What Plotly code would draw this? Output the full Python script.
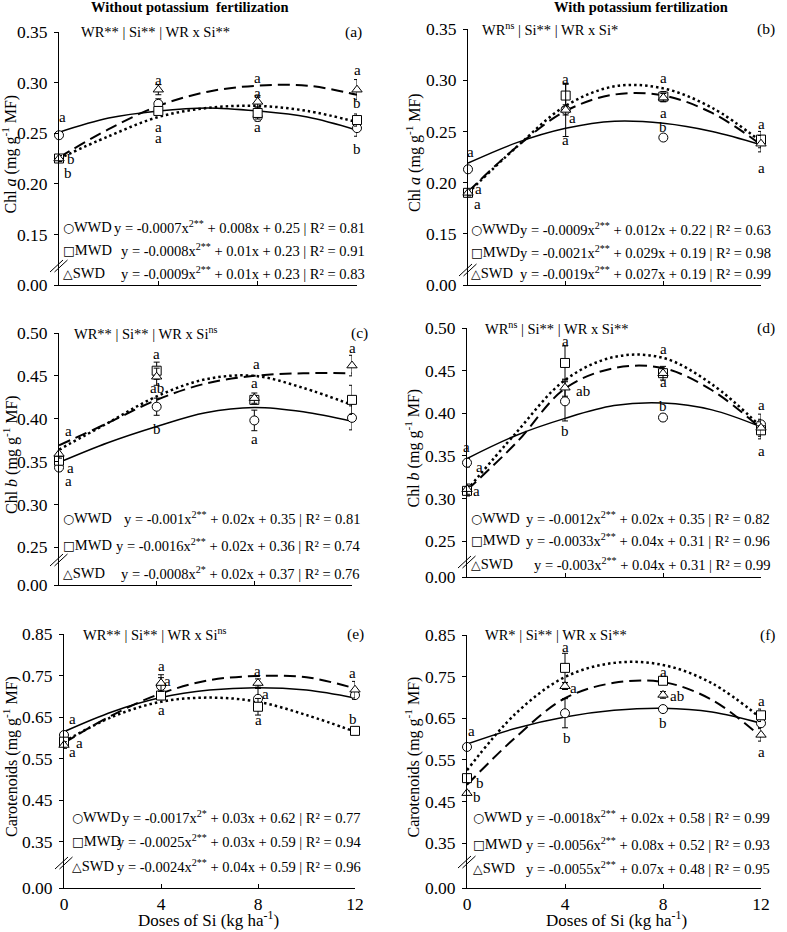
import plotly.graph_objects as go

W, H = 787, 932
FONT = "Liberation Serif, Times New Roman, serif"

X = [0, 4, 8, 12]
XFIT = [0, 2, 4, 6, 8, 10, 12]

# (a) Chl a, without K
A_WWD = [0.248, 0.279, 0.266, 0.255]
A_MWD = [0.225, 0.272, 0.270, 0.263]
A_SWD = [0.225, 0.293, 0.281, 0.293]
A_WWD_ERR = [0.003, 0.005, 0.004, 0.008]
A_MWD_ERR = [0.003, 0.004, 0.006, 0.006]
A_SWD_ERR = [0.003, 0.005, 0.006, 0.010]
A_WWD_FIT = [0.251, 0.265, 0.272, 0.275, 0.272, 0.266, 0.253]
A_MWD_FIT = [0.225, 0.247, 0.266, 0.275, 0.277, 0.272, 0.261]
A_SWD_FIT = [0.226, 0.254, 0.277, 0.291, 0.297, 0.297, 0.288]
A_LETTERS = [(0.16, 0.266, "a"), (0.48, 0.225, "b"), (0.36, 0.211, "b"),
             (4, 0.303, "a"), (4, 0.256, "a"), (4, 0.245, "a"),
             (8, 0.305, "a"), (8, 0.290, "a"), (8, 0.256, "a"),
             (12, 0.312, "a"), (12, 0.280, "b"), (12, 0.234, "b")]
A_EQ = ["y = -0.0007x<sup>2**</sup> + 0.008x + 0.25 | R² = 0.81",
        "y = -0.0008x<sup>2**</sup> + 0.01x + 0.23 | R² = 0.91",
        "y = -0.0009x<sup>2**</sup> + 0.01x + 0.23 | R² = 0.83"]
A_SIG = "WR** | Si** | WR x Si**"

# (b) Chl a, with K
B_WWD = [0.213, 0.271, 0.244, 0.241]
B_MWD = [0.190, 0.285, 0.284, 0.242]
B_SWD = [0.190, 0.271, 0.283, 0.238]
B_WWD_ERR = [0.003, 0.005, 0.003, 0.004]
B_MWD_ERR = [0.003, 0.011, 0.005, 0.008]
B_SWD_ERR = [0.003, 0.026, 0.004, 0.008]
B_WWD_FIT = [0.219, 0.239, 0.253, 0.260, 0.258, 0.250, 0.237]
B_MWD_FIT = [0.190, 0.235, 0.275, 0.294, 0.292, 0.273, 0.240]
B_SWD_FIT = [0.191, 0.235, 0.270, 0.286, 0.285, 0.268, 0.237]
B_LETTERS = [(0.12, 0.230, "a"), (0.41, 0.194, "a"), (0.37, 0.179, "a"),
             (4, 0.301, "a"), (4.3, 0.263, "a"), (4, 0.242, "a"),
             (8, 0.302, "a"), (8, 0.268, "a"), (8, 0.254, "b"),
             (12, 0.257, "a"), (12.35, 0.234, "a"), (12, 0.214, "a")]
B_EQ = ["y = -0.0009x<sup>2**</sup> + 0.012x + 0.22 | R² = 0.63",
        "y = -0.0021x<sup>2**</sup> + 0.029x + 0.19 | R² = 0.98",
        "y = -0.0019x<sup>2**</sup> + 0.027x + 0.19 | R² = 0.99"]
B_SIG = "WR<sup>ns</sup> | Si** | WR x Si*"

# (c) Chl b, without K
C_WWD = [0.343, 0.414, 0.398, 0.401]
C_MWD = [0.351, 0.456, 0.422, 0.422]
C_SWD = [0.359, 0.449, 0.424, 0.462]
C_WWD_ERR = [0.004, 0.010, 0.012, 0.014]
C_MWD_ERR = [0.005, 0.010, 0.005, 0.017]
C_SWD_ERR = [0.005, 0.010, 0.006, 0.012]
C_WWD_FIT = [0.349, 0.372, 0.391, 0.407, 0.413, 0.408, 0.397]
C_MWD_FIT = [0.364, 0.395, 0.426, 0.446, 0.450, 0.436, 0.416]
C_SWD_FIT = [0.369, 0.395, 0.422, 0.441, 0.450, 0.453, 0.453]
C_LETTERS = [(0.37, 0.386, "a"), (0.49, 0.343, "a"), (0.37, 0.327, "a"),
             (4, 0.476, "a"), (4, 0.436, "ab"), (4, 0.388, "b"),
             (8.1, 0.464, "a"), (8, 0.442, "a"), (8, 0.376, "a"),
             (12, 0.483, "a"), (12.33, 0.422, "b"), (12.33, 0.399, "b")]
C_EQ = ["y = -0.001x<sup>2**</sup> + 0.02x + 0.35 | R² = 0.81",
        "y = -0.0016x<sup>2**</sup> + 0.02x + 0.36 | R² = 0.74",
        "y = -0.0008x<sup>2*</sup> + 0.02x + 0.37 | R² = 0.76"]
C_SIG = "WR** | Si** | WR x Si<sup>ns</sup>"

# (d) Chl b, with K
D_WWD = [0.342, 0.414, 0.395, 0.387]
D_MWD = [0.309, 0.459, 0.447, 0.380]
D_SWD = [0.311, 0.430, 0.447, 0.383]
D_WWD_ERR = [0.005, 0.023, 0.004, 0.012]
D_MWD_ERR = [0.006, 0.020, 0.005, 0.010]
D_SWD_ERR = [0.006, 0.010, 0.008, 0.010]
D_WWD_FIT = [0.347, 0.374, 0.394, 0.409, 0.412, 0.404, 0.384]
D_MWD_FIT = [0.310, 0.377, 0.439, 0.466, 0.465, 0.434, 0.384]
D_SWD_FIT = [0.310, 0.365, 0.429, 0.453, 0.453, 0.427, 0.382]
D_LETTERS = [(0.0, 0.361, "a"), (0.53, 0.337, "a"), (0.37, 0.309, "a"),
             (4, 0.485, "a"), (4.73, 0.426, "ab"), (4, 0.379, "b"),
             (8, 0.475, "a"), (8, 0.437, "a"), (8, 0.408, "b"),
             (12, 0.410, "a"), (12.37, 0.381, "a"), (12, 0.356, "a")]
D_EQ = ["y = -0.0012x<sup>2**</sup> + 0.02x + 0.35 | R² = 0.82",
        "y = -0.0033x<sup>2**</sup> + 0.04x + 0.31 | R² = 0.96",
        "y = -0.003x<sup>2**</sup> + 0.04x + 0.31 | R² = 0.99"]
D_SIG = "WR<sup>ns</sup> | Si** | WR x Si**"

# (e) carotenoids, without K
E_WWD = [0.607, 0.725, 0.694, 0.703]
E_MWD = [0.591, 0.702, 0.675, 0.617]
E_SWD = [0.583, 0.732, 0.732, 0.716]
E_WWD_ERR = [0.010, 0.020, 0.025, 0.010]
E_MWD_ERR = [0.008, 0.010, 0.020, 0.005]
E_SWD_ERR = [0.008, 0.020, 0.010, 0.020]
E_WWD_FIT = [0.615, 0.663, 0.697, 0.715, 0.721, 0.715, 0.696]
E_MWD_FIT = [0.591, 0.651, 0.687, 0.697, 0.687, 0.655, 0.615]
E_SWD_FIT = [0.588, 0.655, 0.707, 0.739, 0.749, 0.746, 0.719]
E_LETTERS = [(0.37, 0.646, "a"), (0.62, 0.588, "a"), (0.37, 0.566, "a"),
             (4.04, 0.773, "a"), (4.25, 0.737, "a"), (4, 0.667, "a"),
             (7.96, 0.761, "a"), (8.29, 0.706, "a"), (8, 0.643, "a"),
             (11.9, 0.756, "a"), (12.25, 0.696, "a"), (11.9, 0.646, "b")]
E_EQ = ["y = -0.0017x<sup>2*</sup> + 0.03x + 0.62 | R² = 0.77",
        "y = -0.0025x<sup>2**</sup> + 0.03x + 0.59 | R² = 0.94",
        "y = -0.0024x<sup>2**</sup> + 0.04x + 0.59 | R² = 0.96"]
E_SIG = "WR** | Si** | WR x Si<sup>ns</sup>"

# (f) carotenoids, with K
F_WWD = [0.581, 0.662, 0.672, 0.638]
F_MWD = [0.506, 0.771, 0.740, 0.657]
F_SWD = [0.470, 0.727, 0.706, 0.610]
F_WWD_ERR = [0.005, 0.035, 0.005, 0.010]
F_MWD_ERR = [0.010, 0.035, 0.008, 0.015]
F_SWD_ERR = [0.005, 0.008, 0.008, 0.015]
F_WWD_FIT = [0.588, 0.626, 0.653, 0.669, 0.674, 0.665, 0.638]
F_MWD_FIT = [0.525, 0.662, 0.749, 0.783, 0.778, 0.734, 0.650]
F_SWD_FIT = [0.490, 0.605, 0.698, 0.735, 0.737, 0.694, 0.605]
F_LETTERS = [(0.2, 0.619, "a"), (0.53, 0.494, "b"), (0.41, 0.461, "b"),
             (4, 0.821, "a"), (4.33, 0.723, "a"), (4.08, 0.602, "b"),
             (8, 0.761, "a"), (8.57, 0.703, "ab"), (8, 0.638, "b"),
             (12, 0.691, "a"), (12.37, 0.605, "a"), (12, 0.569, "a")]
F_EQ = ["y = -0.0018x<sup>2**</sup> + 0.02x + 0.58 | R² = 0.99",
        "y = -0.0056x<sup>2**</sup> + 0.08x + 0.52 | R² = 0.93",
        "y = -0.0055x<sup>2**</sup> + 0.07x + 0.48 | R² = 0.95"]
F_SIG = "WR* | Si** | WR x Si**"

CHLA = "Chl <i>a</i> (mg g<sup>-1</sup> MF)"
CHLB = "Chl <i>b</i> (mg g<sup>-1</sup> MF)"
CARO = "Carotenoids (mg g<sup>-1</sup> MF)"

LEGEND_GLYPHS = ["\u25CB", "\u25A1", "\u25B3"]
LEGEND_NAMES = ["WWD", "MWD", "SWD"]
SYMBOLS = ["circle", "square", "triangle-up"]
FIT_DASH = ["solid", "2.5px,3px", "12px,6px"]
FIT_WIDTH = [1.5, 2.5, 2]

# pixel boxes (left, right, top, bottom), y range, ticks, text positions
PANELS = [
    dict(tag="(a)", sig=A_SIG, ytitle=CHLA, eq=A_EQ, letters=A_LETTERS,
         y=[A_WWD, A_MWD, A_SWD], err=[A_WWD_ERR, A_MWD_ERR, A_SWD_ERR],
         fit=[A_WWD_FIT, A_MWD_FIT, A_SWD_FIT],
         box=(59, 357, 32, 285), yr=(0.10, 0.35),
         ticks=[0.10, 0.15, 0.20, 0.25, 0.30, 0.35],
         leg_x=61, eq_r=367, rows=[227, 250, 273], sig_x=79, tag_r=364, brk=266, ttl_x=10),
    dict(tag="(b)", sig=B_SIG, ytitle=CHLA, eq=B_EQ, letters=B_LETTERS,
         y=[B_WWD, B_MWD, B_SWD], err=[B_WWD_ERR, B_MWD_ERR, B_SWD_ERR],
         fit=[B_WWD_FIT, B_MWD_FIT, B_SWD_FIT],
         box=(468, 761, 29, 285), yr=(0.10, 0.35),
         ticks=[0.10, 0.15, 0.20, 0.25, 0.30, 0.35],
         leg_x=469, eq_r=773, rows=[229, 252, 273], sig_x=480, tag_r=777, brk=270, ttl_x=413),
    dict(tag="(c)", sig=C_SIG, ytitle=CHLB, eq=C_EQ, letters=C_LETTERS,
         y=[C_WWD, C_MWD, C_SWD], err=[C_WWD_ERR, C_MWD_ERR, C_SWD_ERR],
         fit=[C_WWD_FIT, C_MWD_FIT, C_SWD_FIT],
         box=(59, 352, 333, 585), yr=(0.206, 0.50),
         ticks=[0.206, 0.25, 0.30, 0.35, 0.40, 0.45, 0.50],
         leg_x=61, eq_r=362, rows=[518, 545, 573], sig_x=72, tag_r=370, brk=560, ttl_x=10),
    dict(tag="(d)", sig=D_SIG, ytitle=CHLB, eq=D_EQ, letters=D_LETTERS,
         y=[D_WWD, D_MWD, D_SWD], err=[D_WWD_ERR, D_MWD_ERR, D_SWD_ERR],
         fit=[D_WWD_FIT, D_MWD_FIT, D_SWD_FIT],
         box=(467, 761, 328, 577), yr=(0.208, 0.50),
         ticks=[0.208, 0.25, 0.30, 0.35, 0.40, 0.45, 0.50],
         leg_x=469, eq_r=772, rows=[518, 540, 564], sig_x=483, tag_r=777, brk=562, ttl_x=413),
    dict(tag="(e)", sig=E_SIG, ytitle=CARO, eq=E_EQ, letters=E_LETTERS,
         y=[E_WWD, E_MWD, E_SWD], err=[E_WWD_ERR, E_MWD_ERR, E_SWD_ERR],
         fit=[E_WWD_FIT, E_MWD_FIT, E_SWD_FIT],
         box=(64, 355, 634, 888), yr=(0.239, 0.85),
         ticks=[0.239, 0.35, 0.45, 0.55, 0.65, 0.75, 0.85],
         leg_x=70, eq_r=363, rows=[817, 841, 866], sig_x=81, tag_r=366, brk=863, ttl_x=10),
    dict(tag="(f)", sig=F_SIG, ytitle=CARO, eq=F_EQ, letters=F_LETTERS,
         y=[F_WWD, F_MWD, F_SWD], err=[F_WWD_ERR, F_MWD_ERR, F_SWD_ERR],
         fit=[F_WWD_FIT, F_MWD_FIT, F_SWD_FIT],
         box=(467, 761, 635, 888), yr=(0.242, 0.85),
         ticks=[0.242, 0.35, 0.45, 0.55, 0.65, 0.75, 0.85],
         leg_x=471, eq_r=772, rows=[817, 844, 868], sig_x=483, tag_r=778, brk=862, ttl_x=413),
]


def fx(p):
    return p / W


def fy(p):
    return 1 - p / H


def paper_text(x, y, text, size, xanchor="center", yanchor="middle", **kw):
    return dict(x=fx(x), y=fy(y), xref="paper", yref="paper", xanchor=xanchor, yanchor=yanchor,
                text=text, showarrow=False, font=dict(family=FONT, size=size, color="black"), **kw)


fig = go.Figure()
annotations = []
shapes = []
layout = {}

for i, p in enumerate(PANELS, start=1):
    sfx = "" if i == 1 else str(i)
    xref, yref = "x" + sfx, "y" + sfx
    left, right, top, bottom = p["box"]
    bottom_row = i >= 5

    for k in range(3):
        fig.add_trace(go.Scatter(
            x=XFIT, y=p["fit"][k], mode="lines", xaxis=xref, yaxis=yref,
            line=dict(color="black", width=FIT_WIDTH[k], dash=FIT_DASH[k], shape="spline"),
            showlegend=False, hoverinfo="skip", cliponaxis=False,
        ))
    for k in range(3):
        fig.add_trace(go.Scatter(
            x=X, y=p["y"][k], mode="markers", xaxis=xref, yaxis=yref,
            marker=dict(symbol=SYMBOLS[k], size=9, color="white", line=dict(color="black", width=1)),
            error_y=dict(type="data", array=p["err"][k], color="black", thickness=1, width=3),
            showlegend=False, cliponaxis=False,
        ))

    tick_text = ["0.00"] + [f"{t:.2f}" for t in p["ticks"][1:]]
    layout["xaxis" + sfx] = dict(
        domain=[fx(left), fx(right)], range=[0, 12], anchor=yref, automargin=False,
        tickvals=X, ticks="inside", ticklen=4, tickcolor="black",
        showticklabels=bottom_row, tickfont=dict(family=FONT, size=17.5, color="black"),
        showline=True, linecolor="black", linewidth=1, showgrid=False, zeroline=False,
    )
    layout["yaxis" + sfx] = dict(
        domain=[fy(bottom), fy(top)], range=list(p["yr"]), anchor=xref, automargin=False,
        tickvals=p["ticks"], ticktext=tick_text, ticks="outside", ticklen=4, tickcolor="black",
        tickfont=dict(family=FONT, size=17.5, color="black"), ticklabelstandoff=3,
        showline=True, linecolor="black", linewidth=1, showgrid=False, zeroline=False,
    )

    annotations.append(paper_text(p["ttl_x"], (top + bottom) / 2 - 4, p["ytitle"], 16, textangle=-90))
    annotations.append(paper_text(p["sig_x"], top, p["sig"], 14.5, xanchor="left"))
    annotations.append(paper_text(p["tag_r"], top, p["tag"], 15.5, xanchor="right"))
    for k in range(3):
        label = (f"<span style='font-family:DejaVu Sans;font-size:12.5px'>{LEGEND_GLYPHS[k]}</span>"
                 f"{LEGEND_NAMES[k]}")
        annotations.append(paper_text(p["leg_x"], p["rows"][k], label, 14.5, xanchor="left"))
        annotations.append(paper_text(p["eq_r"], p["rows"][k], p["eq"][k], 14.5, xanchor="right"))
    for lx, ly, lt in p["letters"]:
        annotations.append(dict(
            x=lx, y=ly, xref=xref, yref=yref, xanchor="center", yanchor="middle",
            text=lt, showarrow=False, font=dict(family=FONT, size=15, color="black"),
        ))
    # axis break marks
    for off in (0, 4.5):
        shapes.append(dict(
            type="line", xref="paper", yref="paper",
            x0=fx(left - 9 + off), y0=fy(p["brk"] + 6),
            x1=fx(left + 4 + off), y1=fy(p["brk"] - 6),
            line=dict(color="black", width=1),
        ))

annotations.append(paper_text(190, 7, "<b>Without potassium  fertilization</b>", 14.5))
annotations.append(paper_text(641, 7, "<b>With potassium fertilization</b>", 14.5))
for cx in (208, 616):
    annotations.append(paper_text(cx, 932, "Doses of Si (kg ha<sup>-1</sup>)", 17, yanchor="bottom"))

fig.update_layout(
    width=W, height=H, margin=dict(l=0, r=0, t=0, b=0, pad=0, autoexpand=False),
    paper_bgcolor="white", plot_bgcolor="white",
    annotations=annotations, shapes=shapes, **layout,
)

# the page's default body margin would push the fixed-size figure off the window
fig.write_html("out.html", config={"displayModeBar": False},
               post_script="document.body.style.margin = '0';")
